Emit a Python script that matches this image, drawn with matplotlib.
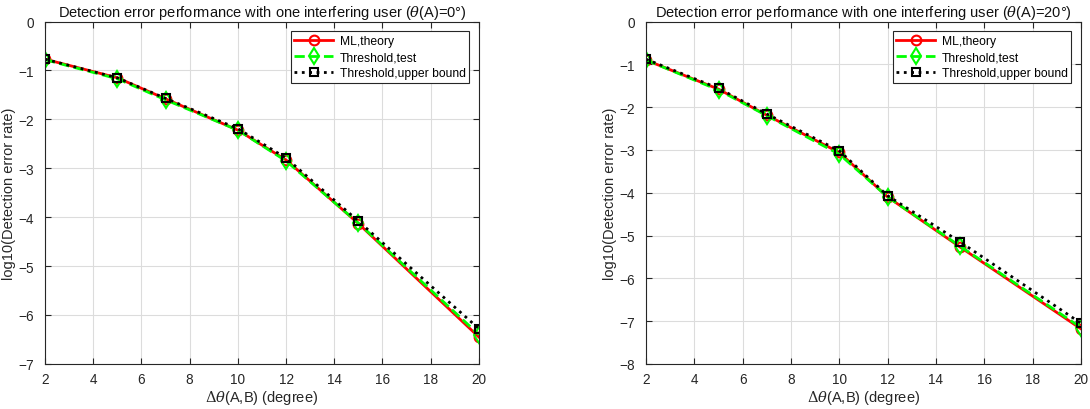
import matplotlib.pyplot as plt
import numpy as np

plt.rcParams['font.family'] = ['Liberation Sans', 'DejaVu Sans']
plt.rcParams['mathtext.fontset'] = 'dejavuserif'

# x values (degree separation)
delta_theta = [2, 5, 7, 10, 12, 15, 20]

# theta(A) = 0 deg
ml_theory_0 = [-0.77, -1.15, -1.58, -2.22, -2.83, -4.13, -6.45]
thr_test_0 = [-0.78, -1.17, -1.60, -2.22, -2.85, -4.12, -6.40]
thr_bound_0 = [-0.77, -1.15, -1.57, -2.19, -2.79, -4.08, -6.28]

# theta(A) = 20 deg
ml_theory_20 = [-0.90, -1.58, -2.19, -3.06, -4.10, -5.27, -7.18]
thr_test_20 = [-0.90, -1.60, -2.20, -3.10, -4.10, -5.25, -7.15]
thr_bound_20 = [-0.88, -1.56, -2.16, -3.02, -4.07, -5.15, -7.05]

panels = [
    ([0.0413, 0.11, 0.398, 0.835], ml_theory_0, thr_test_0, thr_bound_0,
     r'Detection error performance with one interfering user ($\theta$(A)=0°)', (-7, 0)),
    ([0.5927, 0.11, 0.399, 0.835], ml_theory_20, thr_test_20, thr_bound_20,
     r'Detection error performance with one interfering user ($\theta$(A)=20°)', (-8, 0)),
]

fig = plt.figure(figsize=(10.9, 4.1), dpi=100)

for rect, ml, test, bound, title, ylim in panels:
    ax = fig.add_axes(rect)
    ax.plot(delta_theta, ml, color='red', linestyle='-', linewidth=2,
            marker='o', markersize=7, markerfacecolor='none', markeredgewidth=1.5,
            label='ML,theory')
    ax.plot(delta_theta, test, color='#00ff00', linestyle='--', linewidth=2,
            marker='d', markersize=8, markerfacecolor='none', markeredgewidth=1.5,
            label='Threshold,test')
    ax.plot(delta_theta, bound, color='black', linestyle=':', linewidth=2,
            marker='s', markersize=6, markerfacecolor='none', markeredgewidth=1.5,
            label='Threshold,upper bound')
    ax.set_xlim(2, 20)
    ax.set_ylim(*ylim)
    ax.set_xticks(np.arange(2, 21, 2))
    ax.set_yticks(np.arange(ylim[0], 1, 1))
    ax.grid(True, color='#dcdcdc', linewidth=0.8)
    ax.set_axisbelow(True)
    ax.tick_params(direction='in', labelsize=9.8, colors='#262626', top=True, right=True,
                   labeltop=False, labelright=False, length=4)
    ax.tick_params(axis='x', pad=6)
    ax.tick_params(axis='y', pad=8)
    for sp in ax.spines.values():
        sp.set_color('#262626')
        sp.set_linewidth(0.8)
    ax.set_title(title, fontsize=10.5, color='#111111', pad=4)
    ax.set_xlabel(r'$\Delta\theta$(A,B) (degree)', fontsize=10.5, color='#262626', labelpad=1)
    ax.set_ylabel('log10(Detection error rate)', fontsize=10.5, color='#262626', labelpad=2)
    leg = ax.legend(loc='upper right', fontsize=8.7, fancybox=False, framealpha=1,
                    edgecolor='#262626', borderpad=0.3, labelspacing=0.35, handlelength=3.2,
                    handletextpad=0.55, borderaxespad=0.8)
    leg.get_frame().set_linewidth(0.8)

fig.savefig('out.png', dpi=100)
plt.close()
